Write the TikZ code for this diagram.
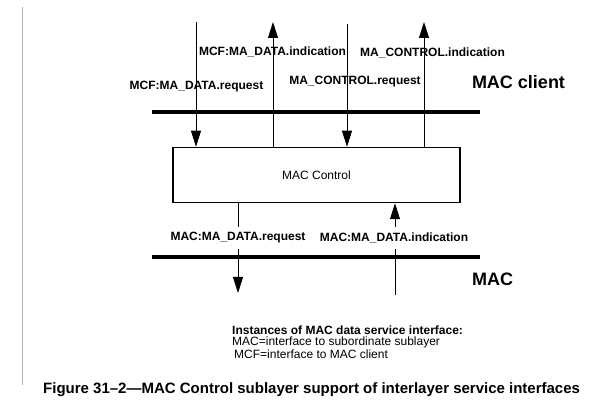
\documentclass[tikz,border=0pt]{standalone}
\usepackage{fontspec}
\setmainfont{Liberation Sans}
\usetikzlibrary{arrows.meta}
\begin{document}
\begin{tikzpicture}[x=1pt,y=-1pt,
  arr/.style={line width=0.8pt,-{Triangle[length=16pt,width=10pt]}},
  layerline/.style={line width=3.8pt},
  lbl/.style={font=\fontsize{12}{14}\selectfont\bfseries,inner sep=0pt},
  lblw/.style={lbl,fill=white,minimum height=22pt,inner xsep=1pt},
  big/.style={font=\fontsize{18}{21}\selectfont\bfseries,inner sep=0pt},
  note/.style={font=\fontsize{12}{13}\selectfont,inner sep=0pt,anchor=west}]
\useasboundingbox (0,0) rectangle (594,403);
% page rule
\coordinate (g1) at (22,7);
\coordinate (g2) at (22,385);
\draw[line width=1pt,color=black!30] (g1) -- (g2);
% layer lines
\coordinate (c1) at (152,112);
\coordinate (c2) at (480,112);
\draw[layerline] (c1) -- (c2);
\coordinate (m1) at (152,257);
\coordinate (m2) at (480,257);
\draw[layerline] (m1) -- (m2);
% MAC Control box
\node[draw,line width=1.5pt,minimum width=287pt,minimum height=55pt,
  font=\fontsize{12}{14}\selectfont,inner sep=0pt] (ctrl) at (316.5,175) {MAC Control};
% top arrows
\coordinate (t1) at (196,22);
\coordinate (t2) at (273,22);
\coordinate (t3) at (347,24);
\coordinate (t4) at (424,22);
\draw[arr] (t1) -- (t1 |- ctrl.north);
\draw[arr] (t2 |- ctrl.north) -- (t2);
\draw[arr] (t3) -- (t3 |- ctrl.north);
\draw[arr] (t4 |- ctrl.north) -- (t4);
% bottom arrows
\coordinate (b1) at (238,293);
\coordinate (b2) at (395,295);
\draw[arr] (b1 |- ctrl.south) -- (b1);
\draw[arr] (b2) -- (b2 |- ctrl.south);
% labels
\node[lbl] (l1) at (196.5,87) {MCF:MA\_DATA.request};
\node[lbl] (l2) at (272.5,52) {MCF:MA\_DATA.indication};
\node[lbl] (l3) at (355,82) {MA\_CONTROL.request};
\node[lbl] (l4) at (432.5,53) {MA\_CONTROL.indication};
\node[big] (mc) at (518.5,82) {MAC client};
\node[lblw] (l5) at (238,238) {MAC:MA\_DATA.request};
\node[lblw] (l6) at (394,238) {MAC:MA\_DATA.indication};
\node[big] (mac) at (492.5,279) {MAC};
% notes
\node[note,font=\fontsize{12}{13}\selectfont\bfseries] (n1) at (232,330.5) {Instances of MAC data service interface:};
\node[note] (n2) at (232,342.5) {MAC=interface to subordinate sublayer};
\node[note] (n3) at (234,354.5) {MCF=interface to MAC client};
\node[anchor=west,inner sep=0pt,font=\fontsize{15}{17}\selectfont\bfseries] (cap) at (43,390)
  {Figure 31–2—MAC Control sublayer support of interlayer service interfaces};
\end{tikzpicture}
\end{document}
